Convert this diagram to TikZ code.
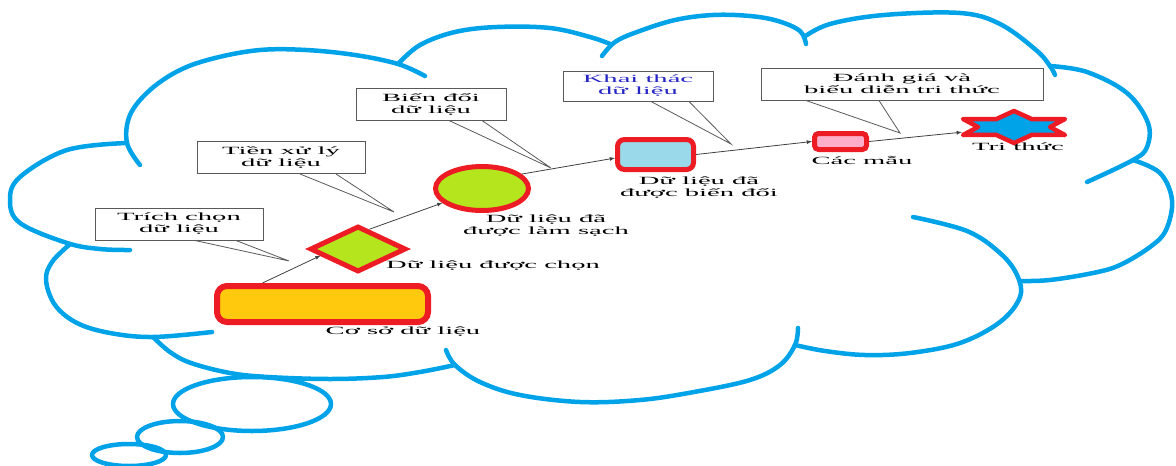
\documentclass[tikz,border=0pt]{standalone}
\usepackage{fontspec}
\setmainfont{Liberation Serif}
\newfontfamily\widefont[FakeStretch=2.6]{Liberation Serif}
\usepackage{tikz}
\usetikzlibrary{shapes,arrows,positioning,calc}
\definecolor{cloudblue}{HTML}{00A2E8}
\definecolor{stagered}{HTML}{ED1C24}
\definecolor{dbgold}{HTML}{FFC90E}
\definecolor{leafgreen}{HTML}{B5E61D}
\definecolor{paleblue}{HTML}{99D9EA}
\definecolor{palepink}{HTML}{FFAEC9}
\definecolor{inkblue}{HTML}{2626C4}
\newcommand{\vntext}{\widefont\fontsize{11}{12}\selectfont}

\begin{document}
\begin{tikzpicture}[x=1pt,y=-1pt,
  lobe/.style={line width=4.5pt,cloudblue,line cap=round,line join=round},
  stage/.style={draw=stagered,line width=5pt,inner sep=0pt},
  note/.style={draw=gray!70!black,line width=1pt,fill=white,minimum width=#1,
    minimum height=32pt,align=center,inner sep=0pt,font=\vntext,text=black},
  tag/.style={align=center,inner sep=0pt,font=\vntext,text=black},
  flow/.style={-latex,black!75,line width=0.8pt},
  pointer/.style={black!65,line width=0.8pt}]
  \useasboundingbox (0,0) rectangle (1176,466);

  % Cloud outline
  \draw[lobe] plot[smooth,tension=0.6] coordinates {(140,165) (127,143) (130,115) (150,90) (180,70) (215,58) (260,50) (306,50) (355,55) (398,64) (425,76)};
  \draw[lobe] plot[smooth,tension=0.6] coordinates {(398,64) (420,45) (455,32) (497,27) (550,28) (590,37) (610,44)};
  \draw[lobe] plot[smooth,tension=0.6] coordinates {(602,56) (615,42) (637,32) (675,20) (713,15) (750,16) (778,21) (800,31) (806,44)};
  \draw[lobe] plot[smooth,tension=0.6] coordinates {(804,37) (830,24) (884,15) (960,13) (1000,24) (1036,50) (1050,66) (1055,75)};
  \draw[lobe] plot[smooth,tension=0.6] coordinates {(1050,66) (1087,72) (1127,93) (1148,123) (1147,147) (1133,160) (1087,182)};
  \draw[lobe] plot[smooth,tension=0.6] coordinates {(1133,160) (1160,173) (1172,200) (1166,230) (1150,247) (1120,265) (1093,273) (1050,280) (1021,281)};
  \draw[lobe] plot[smooth,tension=0.6] coordinates {(913,217) (967,231) (1000,253) (1017,275) (1020,297) (1000,322) (960,343) (910,353) (865,355) (825,351) (795,345)};
  \draw[lobe] plot[smooth,tension=0.6] coordinates {(798,328) (795,345) (780,365) (750,380) (694,392) (640,400) (580,402) (520,395) (480,382) (455,365) (446,350)};
  \draw[lobe] plot[smooth,tension=0.6] coordinates {(153,337) (170,352) (191,363) (230,373) (268,377) (330,379) (383,377) (420,372) (455,365)};
  \draw[lobe] plot[smooth,tension=0.6] coordinates {(69,245) (52,262) (46,280) (55,305) (77,323) (110,333) (153,337) (212,332)};
  \draw[lobe] plot[smooth,tension=0.6] coordinates {(127,143) (67,150) (20,177) (10,200) (20,223) (67,243) (100,249) (130,250)};

  % Thought bubbles
  \draw[lobe] (252,404) ellipse [x radius=79, y radius=27];
  \draw[lobe] (180,437) ellipse [x radius=43, y radius=16];
  \draw[lobe] (129,455) ellipse [x radius=37, y radius=11];

  % Step notes
  \node[note=168pt] (trich) at (179,224) {Trích chọn\\dữ liệu};
  \node[note=168pt] (tien) at (281,157.5) {Tiền xử lý\\dữ liệu};
  \node[note=150pt] (bien) at (431,104) {Biến đổi\\dữ liệu};
  \node[note=150pt,minimum height=30pt,text=inkblue] (khai) at (638,86) {Khai thác\\dữ liệu};
  \node[note=282pt] (danh) at (902,84) {Đánh giá và\\biểu diễn tri thức};

  \coordinate (trichtip) at (289,261);
  \coordinate (tientip) at (394,212);
  \coordinate (bientip) at (551,168);
  \coordinate (khaitip) at (731,144);
  \coordinate (danhtip) at (900,133);
  \draw[pointer] ([xshift=16pt]trich.south) -- (trichtip) -- ([xshift=57pt]trich.south);
  \draw[pointer] ([xshift=19pt]tien.south) -- (tientip) -- ([xshift=55pt]tien.south);
  \draw[pointer] ([xshift=18pt]bien.south) -- (bientip) -- ([xshift=51pt]bien.south);
  \draw[pointer] ([xshift=13pt]khai.south) -- (khaitip) -- ([xshift=51pt]khai.south);
  \draw[pointer] ([xshift=-96pt]danh.south) -- (danhtip) -- ([xshift=-23pt]danh.south);

  % Data stages
  \node[stage,line width=6pt,fill=dbgold,rounded corners=10pt,minimum width=211pt,minimum height=36pt] (db) at (322.5,304) {};
  \node[stage,diamond,fill=leafgreen,minimum width=96pt,minimum height=46pt] (sel) at (358,249) {};
  \node[stage,ellipse,fill=leafgreen,minimum width=93pt,minimum height=44pt] (clean) at (482,188.5) {};
  \node[stage,fill=paleblue,rounded corners=7pt,minimum width=76pt,minimum height=30pt] (trans) at (655.5,154.5) {};
  \node[stage,fill=palepink,rounded corners=4pt,minimum width=52pt,minimum height=16pt] (pat) at (840.5,141.5) {};
  \node[inner sep=0pt,minimum width=104pt,minimum height=30pt] (know) at (1014,127) {};
  \draw[draw=stagered,fill=cloudblue,line width=4.5pt,line join=round]
    (1050,127) -- (1065,119) -- (1032,119.2) -- (1014,111) -- (996,119.2) -- (963,119)
    -- (978,127) -- (963,135) -- (996,134.8) -- (1014,143) -- (1032,134.8) -- (1065,135) -- cycle;

  % Flow between stages
  \draw[flow] ([xshift=-60pt]db.north) -- (sel.190);
  \draw[flow] (sel.60) -- (clean.200);
  \draw[flow] (clean.20) -- (trans.185);
  \draw[flow] (trans.east) -- (pat.west);
  \draw[flow] (pat.east) -- (know);

  % Stage labels
  \node[tag] (dblabel) at (403,332) {Cơ sở dữ liệu};
  \node[tag] (sellabel) at (493,266) {Dữ liệu được chọn};
  \node[tag] (cleanlabel) at (546,226) {Dữ liệu đã\\được làm sạch};
  \node[tag] (translabel) at (699,188) {Dữ liệu đã\\được biến đổi};
  \node[tag] (patlabel) at (862,160) {Các mẫu};
  \node[tag] (knowlabel) at (1018,147) {Tri thức};
\end{tikzpicture}
\end{document}
